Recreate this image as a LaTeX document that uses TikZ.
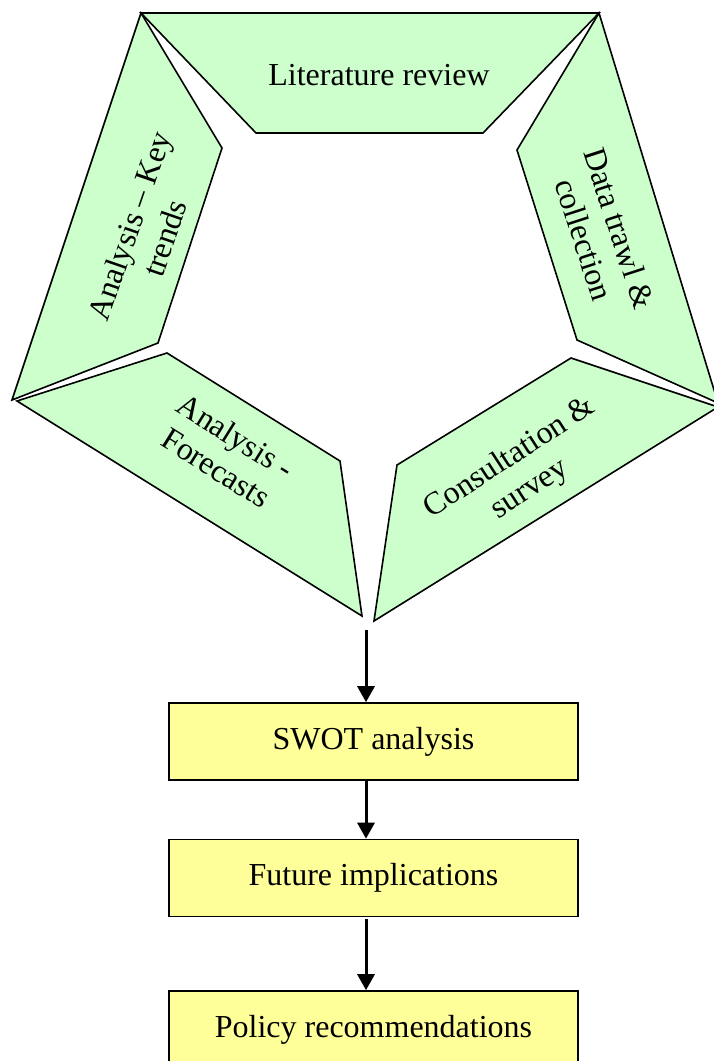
\documentclass[tikz,border=0pt]{standalone}
\usepackage{fontspec}
\setmainfont{Liberation Serif}
\usetikzlibrary{arrows.meta}
\definecolor{segfill}{HTML}{CCFFCC}
\definecolor{boxfill}{HTML}{FFFF99}
\tikzset{
  seg/.style={draw=black, fill=segfill, line width=1.6pt, line join=miter},
  segtext/.style={align=center, font=\fontsize{32}{37}\selectfont, inner sep=0pt},
  stage/.style={draw=black, fill=boxfill, line width=1.6pt, minimum width=409pt, minimum height=77pt, inner sep=0pt, font=\fontsize{32}{37}\selectfont},
  arr/.style={line width=3pt, -{Triangle[width=17pt,length=16pt]}}
}
\begin{document}
\begin{tikzpicture}[x=1pt,y=-1pt]
\useasboundingbox (0,0) rectangle (714,1061);
\clip (0,0) rectangle (714,1061);
% pentagon segments
\draw[seg] (141,13) -- (599,13) -- (483,133) -- (256,133) -- cycle;
\draw[seg] (141,13) -- (222,148) -- (158,343) -- (12,400) -- cycle;
\draw[seg] (17,401) -- (167,353) -- (340,461) -- (362,616) -- cycle;
\draw[seg] (374,621) -- (397,465) -- (571,358) -- (718,407) -- cycle;
\draw[seg] (599,13) -- (718,403) -- (577,340) -- (517,150) -- cycle;
% segment labels
\node[segtext] (lit) at (379,75) {Literature review};
\node[segtext, rotate=71] (key) at (147,232) {Analysis -- Key\\trends};
\node[segtext, rotate=-72] (data) at (602,234) {Data trawl \&\\collection};
\node[segtext, rotate=-32] (fore) at (226,452) {Analysis -\\Forecasts};
\node[segtext, rotate=33] (cons) at (520,474) {Consultation \&\\survey};
% flow
\coordinate (start) at (366,630);
\node[stage] (swot) at (373.5,741.5) {SWOT analysis};
\node[stage] (fut) at (373.5,878) {Future implications};
\node[stage] (pol) at (373.5,1029.5) {Policy recommendations};
\draw[arr] (start) -- (start |- swot.north);
\draw[arr] (swot.south -| start) -- (start |- fut.north);
\draw[arr] ([yshift=-2pt]fut.south -| start) -- (start |- pol.north);
\end{tikzpicture}
\end{document}
